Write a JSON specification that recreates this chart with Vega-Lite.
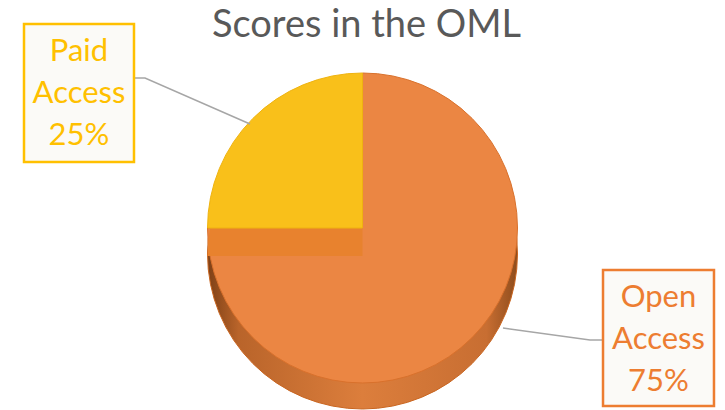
{
  "$schema": "https://vega.github.io/schema/vega-lite/v6.json",
  "width": 725,
  "height": 360,
  "autosize": "none",
  "padding": {"top": 50, "left": 0, "right": 0, "bottom": 0},
  "background": "white",
  "title": {
    "text": "Scores in the OML",
    "font": "Lato",
    "fontSize": 38,
    "fontWeight": "normal",
    "color": "#595959",
    "anchor": "middle",
    "frame": "group",
    "offset": 8,
    "dy": 34,
    "dx": 4
  },
  "data": {
    "values": [
      {"category": "Open Access", "value": 75, "label": "Open\nAccess\n75%"},
      {"category": "Paid Access", "value": 25, "label": "Paid\nAccess\n25%"}
    ]
  },
  "layer": [
    {
      "mark": {
        "type": "arc", "outerRadius": 155, "yOffset": 24,
        "color": {"gradient": "linear", "x1": 0, "x2": 1, "y1": 0, "y2": 0,
          "stops": [
            {"offset": 0, "color": "#7E4016"},
            {"offset": 0.1, "color": "#B9642A"},
            {"offset": 0.5, "color": "#DC7E3C"},
            {"offset": 0.9, "color": "#C86E32"},
            {"offset": 1, "color": "#8E4C1C"}
          ]},
        "stroke": "#C9651F", "strokeWidth": 1
      },
      "encoding": {"theta": {"field": "value", "type": "quantitative", "stack": true}}
    },
    {
      "transform": [{"filter": "datum.category === 'Open Access'"}],
      "mark": {"type": "arc", "outerRadius": 155, "yOffset": -2, "color": "#EB8643", "stroke": "#D9712C", "strokeWidth": 1},
      "encoding": {"theta": {"field": "value", "type": "quantitative", "stack": true, "scale": {"domain": [0, 75], "range": [0, 4.712389]}}}
    },
    {
      "transform": [{"filter": "datum.category === 'Paid Access'"}],
      "mark": {"type": "arc", "outerRadius": 155, "yOffset": 26, "color": "#E8822E", "theta": 4.712389, "theta2": 6.283185},
      "encoding": {}
    },
    {
      "transform": [{"filter": "datum.category === 'Paid Access'"}],
      "mark": {"type": "arc", "outerRadius": 155, "yOffset": -2, "color": "#F9C01A", "stroke": "#EFB30F", "strokeWidth": 1, "theta": 4.712389, "theta2": 6.283185},
      "encoding": {}
    },
    {
      "transform": [{"filter": "datum.category === 'Paid Access'"}],
      "mark": {"type": "point", "shape": "M-1,-0.397L-0.81,-0.397L1,0.397", "size": 13456, "filled": false, "stroke": "#A6A6A6", "strokeWidth": 1.5, "opacity": 1, "xOffset": -170.5, "yOffset": -129},
      "encoding": {}
    },
    {
      "transform": [{"filter": "datum.category === 'Open Access'"}],
      "mark": {"type": "point", "shape": "M1,0.12L0.74,0.12L-1,-0.12", "size": 10000, "filled": false, "stroke": "#A6A6A6", "strokeWidth": 1.5, "opacity": 1, "xOffset": 190.5, "yOffset": 104},
      "encoding": {}
    },
    {
      "transform": [{"filter": "datum.category === 'Paid Access'"}],
      "mark": {"type": "point", "shape": "M-0.797,-1H0.797V1H-0.797Z", "size": 19044, "filled": true, "fill": "#FBFAF7", "stroke": "#FFC000", "strokeWidth": 2.5, "opacity": 1, "xOffset": -283.5, "yOffset": -137},
      "encoding": {}
    },
    {
      "transform": [{"filter": "datum.category === 'Open Access'"}],
      "mark": {"type": "point", "shape": "M-0.816,-1H0.816V1H-0.816Z", "size": 18496, "filled": true, "fill": "#FBFAF7", "stroke": "#ED7D31", "strokeWidth": 2.5, "opacity": 1, "xOffset": 296, "yOffset": 108},
      "encoding": {}
    },
    {
      "transform": [{"filter": "datum.category === 'Paid Access'"}],
      "mark": {"type": "text", "font": "Lato", "fontSize": 31, "lineHeight": 42, "lineBreak": "\n", "color": "#FFC000", "align": "center", "baseline": "middle", "dx": -283.5, "dy": -178},
      "encoding": {"text": {"field": "label"}}
    },
    {
      "transform": [{"filter": "datum.category === 'Open Access'"}],
      "mark": {"type": "text", "font": "Lato", "fontSize": 31, "lineHeight": 42, "lineBreak": "\n", "color": "#ED7D31", "align": "center", "baseline": "middle", "dx": 296, "dy": 68},
      "encoding": {"text": {"field": "label"}}
    }
  ],
  "config": {"view": {"stroke": null}}
}
